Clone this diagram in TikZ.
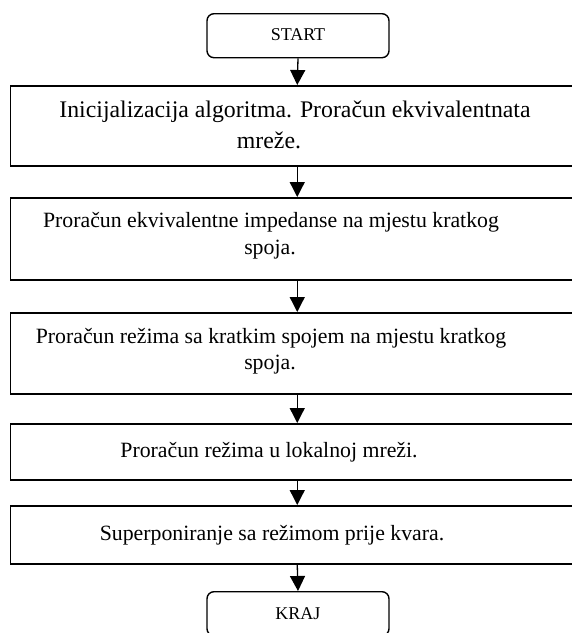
\documentclass[tikz,border=0pt]{standalone}
\usepackage{fontspec}
\setmainfont{Liberation Serif}
\usetikzlibrary{arrows.meta}
\begin{document}
\begin{tikzpicture}[x=1pt,y=-1pt,
  procbox/.style={draw,line width=1.6pt,rectangle,minimum width=573.5pt,inner sep=0pt,anchor=north},
  termbox/.style={draw,line width=1.4pt,rounded corners=7pt,minimum width=182pt,minimum height=44pt,inner sep=0pt,anchor=north},
  txt/.style={font=\fontsize{21.8}{28}\selectfont,inner sep=0pt},
  bigtxt/.style={font=\fontsize{23.8}{28}\selectfont,inner sep=0pt},
  ttxt/.style={font=\fontsize{18}{22}\selectfont,inner sep=0pt},
  flow/.style={line width=1.3pt,-{Triangle[width=15pt,length=15pt]}}]
\useasboundingbox (0,0) rectangle (572,633);
\fill[white] (0,0) rectangle (572,633);
% boxes
\node[termbox] (s) at (298,13) {};
\node[procbox,minimum height=80pt] (b1) at (297.25,85) {};
\node[procbox,minimum height=82pt] (b2) at (297.25,197) {};
\node[procbox,minimum height=81pt] (b3) at (297.25,312) {};
\node[procbox,minimum height=56pt] (b4) at (297.25,423) {};
\node[procbox,minimum height=58pt] (b5) at (297.25,505) {};
\node[termbox] (k) at (298,591) {};
% texts
\node[ttxt] (ts) at (298,35) {START};
\node[bigtxt] (t1a) at (295,112) {Inicijalizacija algoritma. Proračun ekvivalentnata};
\node[bigtxt] (t1b) at (269,140) {mreže.};
\node[txt] (t2a) at (271,222) {Proračun ekvivalentne impedanse na mjestu kratkog};
\node[txt] (t2b) at (270,250) {spoja.};
\node[txt] (t3a) at (271,338) {Proračun režima sa kratkim spojem na mjestu kratkog};
\node[txt] (t3b) at (270,365) {spoja.};
\node[txt] (t4) at (269,452) {Proračun režima u lokalnoj mreži.};
\node[txt] (t5) at (272,535) {Superponiranje sa režimom prije kvara.};
\node[ttxt] (tk) at (298,614) {KRAJ};
% arrows
\draw[flow] (s.south) -- (b1.north);
\draw[flow] (b1.south) -- (b2.north);
\draw[flow] (b2.south) -- (b3.north);
\draw[flow] (b3.south) -- (b4.north);
\draw[flow] (b4.south) -- (b5.north);
\draw[flow] (b5.south) -- (k.north);
\end{tikzpicture}
\end{document}
